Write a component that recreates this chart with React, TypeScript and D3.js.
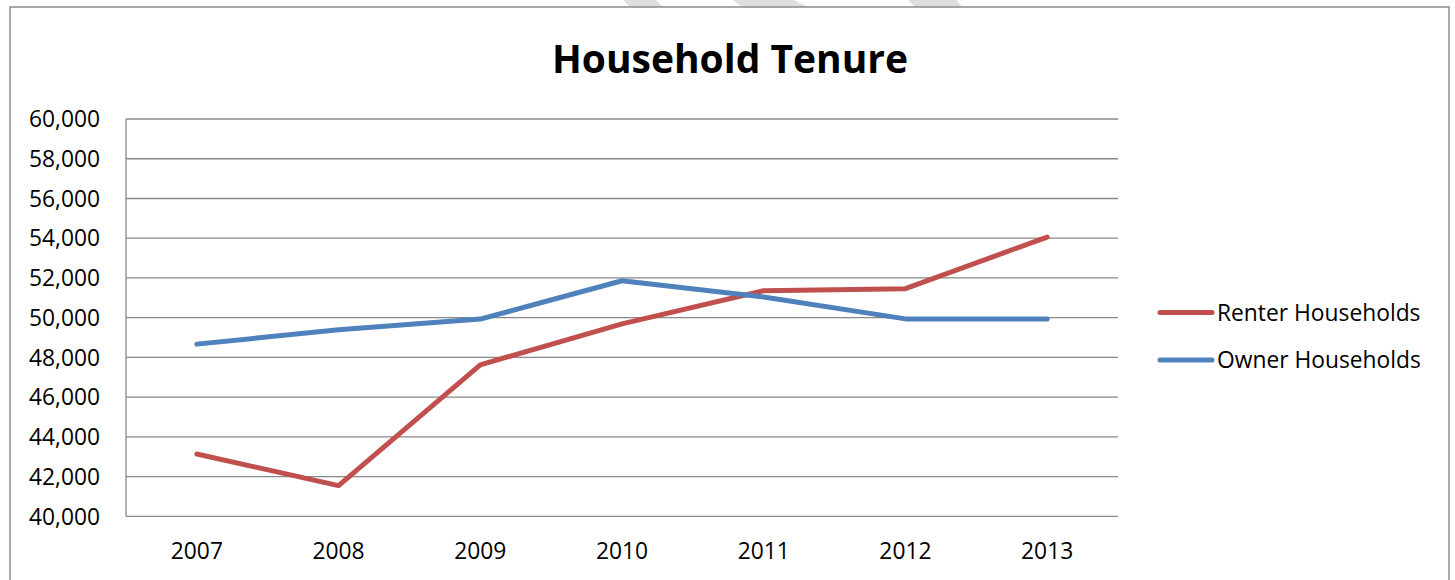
import React, { useRef, useEffect } from 'react';
import * as d3 from 'd3';

// Data
const years = ['2007', '2008', '2009', '2010', '2011', '2012', '2013'];
const renter = [43140, 41550, 47630, 49690, 51360, 51460, 54060];
const owner = [48670, 49390, 49930, 51860, 51040, 49940, 49940];
const yTicks = [40000, 42000, 44000, 46000, 48000, 50000, 52000, 54000, 56000, 58000, 60000];

const seriesList = [
  { name: 'Renter Households', values: renter, color: '#C0504D' },
  { name: 'Owner Households', values: owner, color: '#4F81BD' },
];

const W = 1455;
const H = 580;
const FONT = '"Open Sans", Lato, sans-serif';
const LABEL_SIZE = 22.8;

export default function App() {
  const svgRef = useRef<SVGSVGElement>(null);

  useEffect(() => {
    if (!svgRef.current) return;
    const svg = d3.select(svgRef.current);
    svg.selectAll('*').remove();

    const plot = { left: 126, right: 1118, top: 119, bottom: 516.4 };

    // watermark fragments peeking in at the top edge
    const stripes = [
      [[623, 0], [656, 0], [663, 7], [630, 7]],
      [[733, 0], [794, 0], [808, 7], [742, 7]],
      [[908, 0], [957, 0], [962, 7], [915, 7]],
    ];
    svg.selectAll('.stripe')
      .data(stripes)
      .enter()
      .append('polygon')
      .attr('points', d => d.map(p => p.join(',')).join(' '))
      .attr('fill', '#dedede');

    // chart outer border
    svg.append('rect')
      .attr('x', 10)
      .attr('y', 7)
      .attr('width', 1439)
      .attr('height', 590)
      .attr('fill', 'none')
      .attr('stroke', '#8c8c8c')
      .attr('stroke-width', 1.5);

    svg.append('text')
      .attr('x', 730)
      .attr('y', 73)
      .attr('text-anchor', 'middle')
      .attr('font-family', FONT)
      .attr('font-weight', 'bold')
      .attr('font-size', 39)
      .attr('fill', '#000')
      .text('Household Tenure');

    const x = d3.scaleBand<string>().domain(years).range([plot.left, plot.right]);
    const cx = (yr: string) => (x(yr) || 0) + x.bandwidth() / 2;
    const y = d3.scaleLinear().domain([40000, 60000]).range([plot.bottom, plot.top]);
    const fmt = d3.format(',');

    // gridlines
    svg.append('g')
      .selectAll('line')
      .data(yTicks)
      .enter()
      .append('line')
      .attr('x1', plot.left)
      .attr('x2', plot.right)
      .attr('y1', d => y(d))
      .attr('y2', d => y(d))
      .attr('stroke', '#888')
      .attr('stroke-width', 1.3);

    // left axis line
    svg.append('line')
      .attr('x1', plot.left)
      .attr('x2', plot.left)
      .attr('y1', y(60000))
      .attr('y2', y(40000))
      .attr('stroke', '#888')
      .attr('stroke-width', 1.3);

    // y labels
    svg.append('g')
      .selectAll('text')
      .data(yTicks)
      .enter()
      .append('text')
      .attr('x', 100)
      .attr('y', d => y(d))
      .attr('dy', '0.36em')
      .attr('text-anchor', 'end')
      .attr('font-family', FONT)
      .attr('font-size', LABEL_SIZE)
      .attr('fill', '#000')
      .text(d => fmt(d));

    // x labels
    svg.append('g')
      .selectAll('text')
      .data(years)
      .enter()
      .append('text')
      .attr('x', d => cx(d))
      .attr('y', 559)
      .attr('text-anchor', 'middle')
      .attr('font-family', FONT)
      .attr('font-size', LABEL_SIZE)
      .attr('fill', '#000')
      .text(d => d);

    const line = d3.line<number>()
      .x((_, i) => cx(years[i]))
      .y(d => y(d));

    seriesList.forEach(s => {
      svg.append('path')
        .datum(s.values)
        .attr('fill', 'none')
        .attr('stroke', s.color)
        .attr('stroke-width', 5)
        .attr('stroke-linecap', 'round')
        .attr('stroke-linejoin', 'round')
        .attr('d', line);
    });

    // legend
    const legend = svg.append('g');
    seriesList.forEach((s, i) => {
      const ly = 312.5 + i * 47.5;
      legend.append('line')
        .attr('x1', 1160)
        .attr('x2', 1212)
        .attr('y1', ly)
        .attr('y2', ly)
        .attr('stroke', s.color)
        .attr('stroke-width', 5)
        .attr('stroke-linecap', 'round');
      legend.append('text')
        .attr('x', 1217)
        .attr('y', ly)
        .attr('dy', '0.36em')
        .attr('font-family', FONT)
        .attr('font-size', LABEL_SIZE)
        .attr('fill', '#000')
        .text(s.name);
    });
  }, []);

  return (
    <div style={{ position: 'absolute', left: 0, top: 0, width: W, height: H, background: '#fff' }}>
      <svg ref={svgRef} width={W} height={H} style={{ display: 'block' }} />
    </div>
  );
}
